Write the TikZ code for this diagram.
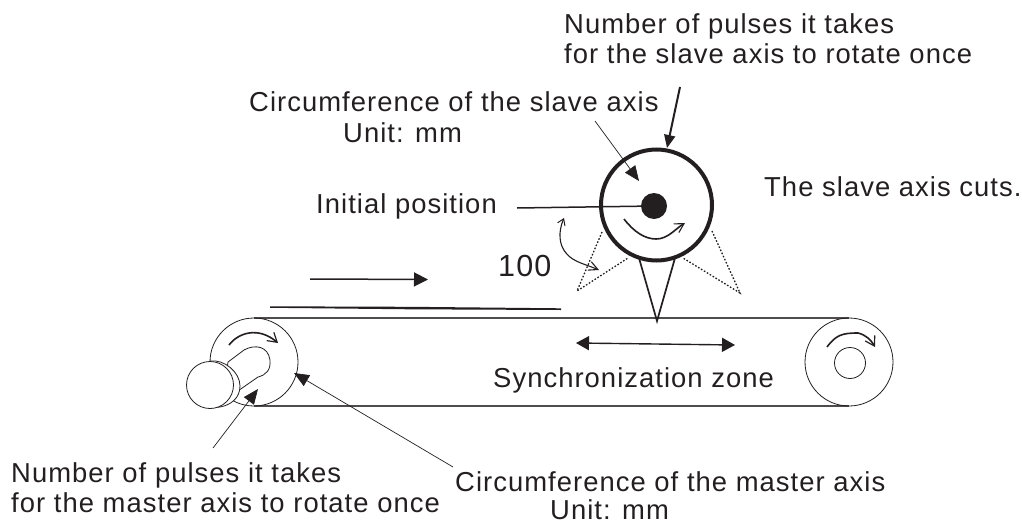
\documentclass[tikz,border=0pt]{standalone}
\usepackage{fontspec}
\setmainfont[LetterSpace=3.8]{Liberation Sans}
\usetikzlibrary{arrows.meta}
\definecolor{ink}{HTML}{231F20}
\tikzset{
  lbl/.style={font=\fontsize{27.4}{32}\selectfont,text=ink,inner sep=0pt,anchor=base west},
  belt/.style={draw=ink!80,line width=1.1pt},
  wheel/.style={circle,draw=ink,line width=0.8pt,inner sep=0pt},
  solid tip/.style={-{Triangle[length=15pt,width=12.5pt]}},
  dots/.style={draw=ink,line width=1.3pt,dash pattern=on 1.6pt off 1.8pt},
}
\begin{document}
\begin{tikzpicture}[x=1pt,y=-1pt]
\useasboundingbox (0,0) rectangle (1022,522);
% coordinates
\coordinate (slaveC) at (656.5,205);
\coordinate (leftP) at (254,362);
\coordinate (rightP) at (849,362);
% labels
\node[lbl] (tPulseS1) at (564,33) {Number of pulses it takes};
\node[lbl] (tPulseS2) at (564,63) {for the slave axis to rotate once};
\node[lbl] (tCircS1) at (249,111) {Circumference of the slave axis};
\node[lbl] (tCircS2) at (343,142) {Unit: mm};
\node[lbl] (tInit) at (316,213) {Initial position};
\node[lbl] (tCuts) at (764,196) {The slave axis cuts.};
\node[lbl,font=\fontsize{30.5}{34}\selectfont] (t100) at (498,276) {100};
\node[lbl] (tSync) at (493,387) {Synchronization zone};
\node[lbl] (tPulseM1) at (11,482) {Number of pulses it takes};
\node[lbl] (tPulseM2) at (11,512) {for the master axis to rotate once};
\node[lbl] (tCircM1) at (455,491) {Circumference of the master axis};
\node[lbl] (tCircM2) at (550,519) {Unit: mm};
% belt
\draw[belt] (254,318) -- (849,318);
\draw[belt] (254,406) -- (849,406);
% pulleys
\node[wheel,minimum size=88pt] (pulleyL) at (leftP) {};
\node[wheel,minimum size=88pt] (pulleyR) at (rightP) {};
\node[wheel,minimum size=31pt] (hubR) at (850,363) {};
% shaft
\filldraw[draw=ink,line width=0.8pt,fill=white] (228,362) -- (244,350) .. controls (255,344) and (268,346) .. (270,360) .. controls (271,370) and (266,375) .. (258,377) -- (222,402) -- cycle;
\filldraw[draw=ink,line width=0.8pt,fill=white] (210,361) .. controls (224,359) and (240,372) .. (240,386) .. controls (240,398) and (231,405) .. (220,407) -- (210,408) -- cycle;
\node[wheel,fill=white,minimum size=47pt] (cap) at (210,385) {};
% rotation arrows on pulleys
\draw[draw=ink,line width=1.6pt,-{Straight Barb[length=9pt,width=11pt,line width=1.2pt]}] (229,345) .. controls (238,333) and (258,326) .. (278,343);
\draw[draw=ink,line width=1.6pt,-{Straight Barb[length=9pt,width=11pt,line width=1.2pt]}] (827,347) .. controls (836,335) and (842,333) .. (858,333) .. controls (866,335) and (871,340) .. (875,347);
% work piece and direction
\coordinate (feedA) at (310,279); \coordinate (feedB) at (428,279.5);
\draw[draw=ink,line width=1.5pt,-{Triangle[length=14pt,width=14pt]}] (feedA) -- (feedB);
\fill[ink] (270,306.3) -- (410,306.8) -- (561,308.3) -- (561,310) -- (410,309.3) -- (270,307.8) -- cycle;
% sync arrow
\coordinate (syncA) at (576,343); \coordinate (syncB) at (735,345);
\draw[draw=ink,line width=1.4pt,{Triangle[length=13pt,width=14pt]}-{Triangle[length=13pt,width=14pt]}] (syncA) -- (syncB);
% knife
\draw[draw=ink,line width=1.7pt,fill=white,line join=miter] (639,258) -- (657,321) -- (675,258);
% dotted positions
\draw[dots] (602,232) -- (577,291) -- (628,258);
\draw[dots] (712,231) -- (740,293) -- (683,258);
% slave wheel
\node[circle,draw=ink,line width=4pt,fill=white,minimum size=111pt,inner sep=0pt] (slave) at (slaveC) {};
\node[circle,fill=ink,minimum size=26pt,inner sep=0pt] (hubS) at (654,206) {};
\draw[draw=ink,line width=1.5pt] (517,208) -- (hubS.center);
\draw[draw=ink,line width=1.6pt,-{Straight Barb[length=9pt,width=10pt,line width=1.1pt]}] (624,219) .. controls (634,232) and (645,239) .. (656,239) .. controls (668,239) and (675,229) .. (685,223);
% 100 arrow
\draw[draw=ink,line width=1.1pt,{Straight Barb[length=6pt,width=8pt,line width=1pt]}-{Straight Barb[length=9pt,width=9pt,line width=1.1pt]}] (564,218) .. controls (558,232) and (559,245) .. (566,253) .. controls (573,262) and (585,264) .. (599,270);
% callouts
\coordinate (c1) at (595,121);
\draw[draw=ink,line width=0.7pt,solid tip] (c1) -- (639,181);
\coordinate (c2) at (680,87);
\draw[draw=ink,line width=2pt,-{Triangle[length=13pt,width=11pt]}] (c2) -- (667,148);
\coordinate (c3) at (213,448);
\draw[draw=ink,line width=0.7pt,solid tip] (c3) -- (258,389);
\coordinate (c4) at (453,467);
\draw[draw=ink,line width=0.7pt,solid tip] (c4) -- (294,373);
\end{tikzpicture}
\end{document}
